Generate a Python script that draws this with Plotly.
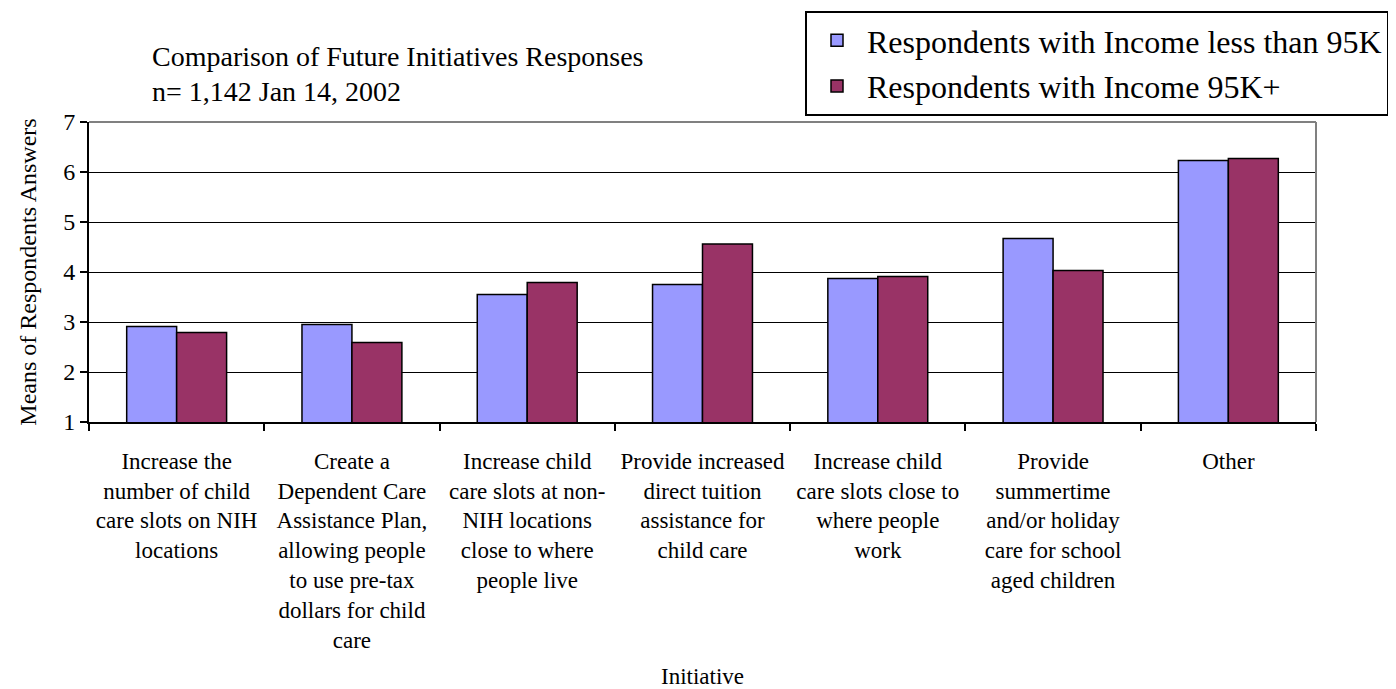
import plotly.graph_objects as go

categories = [
    "Increase the<br>number of child<br>care slots on NIH<br>locations",
    "Create a<br>Dependent Care<br>Assistance Plan,<br>allowing people<br>to use pre-tax<br>dollars for child<br>care",
    "Increase child<br>care slots at non-<br>NIH locations<br>close to where<br>people live",
    "Provide increased<br>direct tuition<br>assistance for<br>child care",
    "Increase child<br>care slots close to<br>where people<br>work",
    "Provide<br>summertime<br>and/or holiday<br>care for school<br>aged children",
    "Other",
]
series_names = ["Respondents with Income less than 95K", "Respondents with Income 95K+"]
income_below_95k = [2.91, 2.95, 3.55, 3.75, 3.87, 4.67, 6.23]
income_95k_plus = [2.79, 2.59, 3.79, 4.56, 3.91, 4.03, 6.27]
y_ticks = [1, 2, 3, 4, 5, 6, 7]

FONT = "Liberation Serif, Times New Roman, serif"

fig = go.Figure()
fig.add_trace(go.Bar(x=categories, y=income_below_95k, name=series_names[0],
                     marker=dict(color="#9999FF", line=dict(color="black", width=1.5)),
                     legendgroup="a"))
fig.add_trace(go.Bar(x=categories, y=income_95k_plus, name=series_names[1],
                     marker=dict(color="#993366", line=dict(color="black", width=1.5)),
                     legendgroup="b"))

L, R, T, B = 81, 88, 114, 275
W, H = 1396, 689
pw, ph = W - L - R, H - T - B

def px_x(x):
    return (x - L) / pw

def px_y(y):
    return (H - B - y) / ph

fig.update_layout(
    width=W, height=H,
    margin=dict(l=L, r=R, t=T, b=B, autoexpand=False),
    paper_bgcolor="white", plot_bgcolor="white",
    font=dict(family=FONT, size=23, color="black"),
    barmode="group", bargap=0.43, bargroupgap=0,
    showlegend=True,
    legend=dict(x=px_x(797), y=px_y(3), xanchor="left", yanchor="top",
                bordercolor="black", borderwidth=2, bgcolor="white",
                font=dict(family=FONT, size=32, color="black"),
                tracegroupgap=1, itemwidth=50),
    xaxis=dict(
        type="category",
        showline=True, linecolor="black", linewidth=2,
        ticks="outside", tickson="boundaries", ticklen=7, tickwidth=2, tickcolor="black",
        showgrid=False, tickfont=dict(size=23), ticklabelstandoff=17,
        title=dict(text="Initiative", font=dict(size=23), standoff=16),
        automargin=False,
    ),
    yaxis=dict(
        range=[1, 7], tickvals=y_ticks, ticktext=[str(v) for v in y_ticks],
        showline=True, linecolor="black", linewidth=2,
        ticks="outside", ticklen=7, tickwidth=2, tickcolor="black",
        showgrid=True, gridcolor="black", gridwidth=1,
        tickfont=dict(size=24),
        title=dict(text="Means of Respondents Answers", font=dict(size=24), standoff=20),
        automargin=False, zeroline=False,
    ),
    annotations=[
        dict(text="Comparison of Future Initiatives Responses", xref="paper", yref="paper",
             x=px_x(142), y=px_y(48), xanchor="left", yanchor="middle", showarrow=False,
             font=dict(family=FONT, size=28, color="black")),
        dict(text="n= 1,142 Jan 14, 2002", xref="paper", yref="paper",
             x=px_x(142), y=px_y(84), xanchor="left", yanchor="middle", showarrow=False,
             font=dict(family=FONT, size=28, color="black")),
    ],
    shapes=[
        dict(type="line", xref="paper", yref="paper", x0=0, x1=1, y0=1, y1=1,
             line=dict(color="#808080", width=2), layer="above"),
        dict(type="line", xref="paper", yref="paper", x0=1, x1=1, y0=0, y1=1,
             line=dict(color="#808080", width=2), layer="above"),
    ],
)

fig.write_html("out.html")
